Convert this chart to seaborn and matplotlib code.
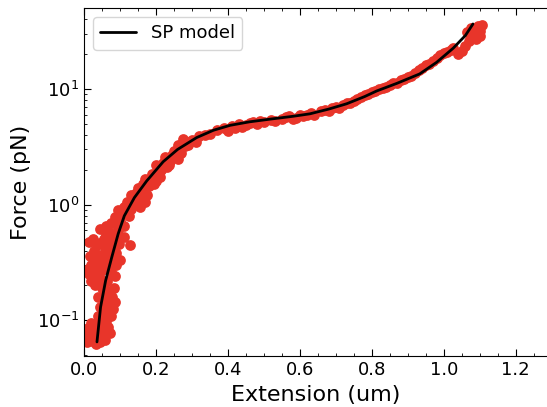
import numpy as np
import pandas as pd
import matplotlib
matplotlib.use("Agg")
import matplotlib.pyplot as plt
import seaborn as sns

ext_data = [
    # low force cluster
    0.008, 0.012, 0.015, 0.018, 0.022, 0.025, 0.028, 0.030, 0.033, 0.036,
    0.038, 0.040, 0.043, 0.046, 0.048, 0.050, 0.053, 0.056, 0.058, 0.062,
    0.066, 0.072, 0.010, 0.006, 0.020, 0.034, 0.045, 0.055, 0.060,
    # 0.1 - 0.6 pN
    0.040, 0.050, 0.060, 0.070, 0.075, 0.065, 0.055, 0.080, 0.085, 0.045,
    0.078, 0.070, 0.060, 0.050, 0.082, 0.040, 0.030, 0.020, 0.015, 0.025,
    0.035, 0.045, 0.055, 0.065, 0.075, 0.085, 0.090, 0.080, 0.070, 0.060,
    0.050, 0.040, 0.030, 0.020, 0.012, 0.018, 0.028, 0.038, 0.048, 0.058,
    0.068, 0.078, 0.088, 0.098, 0.090, 0.075, 0.065, 0.055, 0.045, 0.035,
    0.025, 0.015, 0.060, 0.070, 0.080, 0.095, 0.129, 0.100, 0.110,
    # 0.6 - 1.3 pN
    0.045, 0.060, 0.075, 0.090, 0.100, 0.110, 0.085, 0.100, 0.115, 0.125,
    0.095, 0.110, 0.130, 0.140, 0.120, 0.135, 0.150, 0.130, 0.145, 0.160,
    0.165, 0.170, 0.155, 0.175,
    # 1.3 - 4 pN
    0.150, 0.165, 0.180, 0.170, 0.185, 0.200, 0.190, 0.205, 0.215, 0.200,
    0.220, 0.230, 0.240, 0.225, 0.245, 0.260, 0.250, 0.265, 0.270, 0.280,
    0.285, 0.275, 0.290, 0.300, 0.310, 0.320, 0.335, 0.260, 0.235, 0.210,
    0.195,
    # plateau
    0.350, 0.370, 0.390, 0.400, 0.410, 0.420, 0.430, 0.440, 0.450, 0.460,
    0.470, 0.480, 0.490, 0.500, 0.520, 0.530, 0.550, 0.560, 0.570, 0.580,
    0.590, 0.600,
    # overstretch rise
    0.610, 0.620, 0.630, 0.640, 0.660, 0.670, 0.680, 0.690, 0.700, 0.710,
    0.720, 0.730, 0.740, 0.750, 0.760, 0.770, 0.780, 0.790, 0.800, 0.810,
    0.820, 0.830, 0.840, 0.850, 0.860, 0.870, 0.880, 0.890, 0.900,
    # high force
    0.910, 0.920, 0.930, 0.940, 0.950, 0.960, 0.970, 0.980, 0.990, 1.000,
    1.010, 1.020, 1.025, 1.040, 1.050, 1.060, 1.070, 1.080, 1.090, 1.085,
    1.100, 1.095, 1.105, 1.075, 1.065, 1.090, 1.100,
]
force_data = [
    0.065, 0.072, 0.068, 0.080, 0.066, 0.075, 0.088, 0.070, 0.082, 0.095,
    0.068, 0.078, 0.090, 0.072, 0.085, 0.100, 0.078, 0.092, 0.068, 0.080,
    0.088, 0.077, 0.085, 0.078, 0.095, 0.062, 0.065, 0.105, 0.098,
    0.11, 0.12, 0.115, 0.13, 0.11, 0.14, 0.15, 0.125, 0.145, 0.13,
    0.16, 0.18, 0.17, 0.19, 0.19, 0.16, 0.20, 0.22, 0.25, 0.27,
    0.24, 0.23, 0.21, 0.22, 0.26, 0.24, 0.30, 0.32, 0.28, 0.30,
    0.27, 0.30, 0.33, 0.30, 0.28, 0.36, 0.40, 0.37, 0.35, 0.40,
    0.36, 0.42, 0.38, 0.46, 0.50, 0.48, 0.45, 0.50, 0.47, 0.45,
    0.50, 0.48, 0.55, 0.58, 0.55, 0.60, 0.45, 0.33, 0.52,
    0.62, 0.65, 0.70, 0.68, 0.72, 0.66, 0.78, 0.82, 0.88, 0.80,
    0.90, 0.95, 0.92, 1.00, 1.05, 1.10, 1.08, 1.20, 1.25, 1.15,
    1.30, 1.05, 0.95, 1.20,
    1.4, 1.5, 1.45, 1.65, 1.7, 1.6, 1.85, 1.9, 2.0, 2.2,
    2.3, 2.1, 2.4, 2.6, 2.7, 2.5, 2.9, 3.0, 2.8, 3.2,
    3.5, 3.7, 3.3, 3.6, 3.5, 3.9, 4.0, 3.3, 2.2, 1.75,
    1.5,
    4.1, 4.4, 4.6, 4.3, 4.8, 4.6, 5.0, 4.7, 4.9, 5.1,
    5.2, 5.0, 5.3, 5.2, 5.4, 5.3, 5.5, 5.7, 5.8, 5.5,
    5.6, 5.9,
    5.8, 6.0, 6.2, 6.0, 6.4, 6.6, 6.5, 6.8, 7.0, 6.9,
    7.2, 7.6, 7.5, 7.9, 8.2, 8.5, 8.9, 9.0, 9.5, 9.6,
    10.0, 10.2, 10.5, 10.8, 11.3, 11.2, 12.0, 12.3, 12.8,
    13.0, 13.8, 14.5, 15.2, 16.0, 16.5, 17.5, 18.5, 19.5, 20.5,
    21.0, 21.8, 22.5, 20.0, 21.5, 23.5, 26.0, 28.0, 30.0, 33.0,
    32.0, 35.0, 36.0, 34.0, 31.0, 27.0, 29.0,
]

# fitted SP model curve
ext_model = [0.036, 0.046, 0.060, 0.077, 0.095, 0.112, 0.140, 0.174, 0.220,
             0.260, 0.313, 0.360, 0.406, 0.460, 0.520, 0.580, 0.628, 0.680,
             0.730, 0.780, 0.813, 0.870, 0.933, 0.980, 1.026, 1.060, 1.081]
force_model = [0.065, 0.13, 0.22, 0.35, 0.56, 0.80, 1.15, 1.6, 2.35,
               3.0, 3.8, 4.4, 4.85, 5.2, 5.5, 5.8, 6.1, 6.7,
               7.45, 8.6, 9.6, 11.2, 13.5, 17.0, 22.5, 29.0, 36.5]

df = pd.DataFrame({'Extension': ext_data, 'Force': force_data})
fit = pd.DataFrame({'Extension': ext_model, 'Force': force_model})

sns.set_style('ticks', {'axes.edgecolor': 'black', 'xtick.color': 'black',
                        'ytick.color': 'black', 'text.color': 'black',
                        'axes.labelcolor': 'black'})
plt.rcParams['font.family'] = ['DejaVu Sans']

fig = plt.figure(figsize=(5.47, 4.07), dpi=100)
# right edge of the axes sits past the figure, as in the cropped original
ax = fig.add_axes([0.1536, 0.125, 0.8485, 0.855])

sns.scatterplot(data=df, x='Extension', y='Force', ax=ax, color='#e8352a',
                s=60, linewidth=0, alpha=1, legend=False, zorder=2)
sns.lineplot(data=fit, x='Extension', y='Force', ax=ax, color='black',
             linewidth=2, label='SP model', sort=False, zorder=3)

ax.set_yscale('log')
ax.set_xlim(0, 1.29)
ax.set_ylim(0.049, 50)
ax.set_xticks([0.0, 0.2, 0.4, 0.6, 0.8, 1.0, 1.2])
ax.xaxis.set_minor_locator(matplotlib.ticker.MultipleLocator(0.05))
ax.tick_params(which='both', direction='in', top=True, right=False, labelsize=13)
ax.tick_params(which='major', length=5)
ax.tick_params(which='minor', length=2.5)
ax.set_xlabel('Extension (um)', fontsize=16)
ax.set_ylabel('Force (pN)', fontsize=16)
ax.legend(loc='upper left', fontsize=13)

plt.savefig('out.png', dpi=100)
